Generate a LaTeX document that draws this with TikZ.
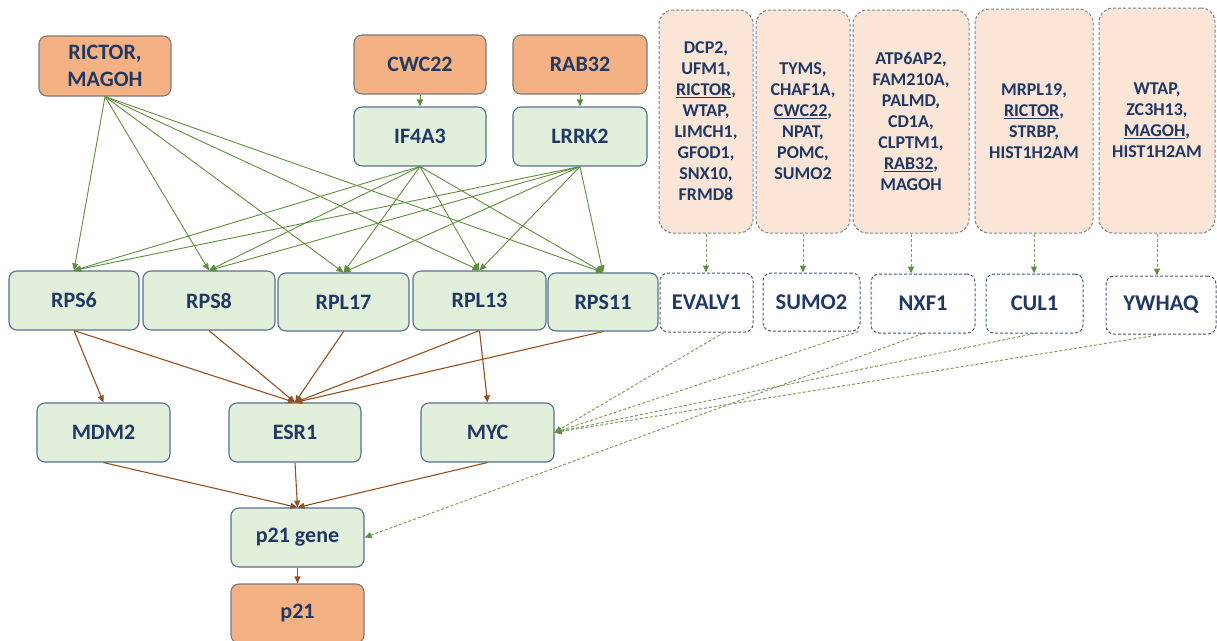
\documentclass[tikz,border=0pt]{standalone}
\usepackage{fontspec}
\setmainfont{Carlito}
\usetikzlibrary{arrows.meta,calc}
\definecolor{orfill}{HTML}{F4B183}
\definecolor{orline}{HTML}{7A7A7A}
\definecolor{grfill}{HTML}{E2EFDA}
\definecolor{grline}{HTML}{56708F}
\definecolor{pkfill}{HTML}{FBE5D6}
\definecolor{pkline}{HTML}{7C8796}
\definecolor{wline}{HTML}{44587A}
\definecolor{navy}{HTML}{1F3864}
\definecolor{garrc}{HTML}{5E8E3E}
\definecolor{gdash}{HTML}{7FA060}
\definecolor{barrc}{HTML}{96501F}
\tikzset{
  base/.style={rounded corners=8pt, align=center, text=navy, inner sep=0pt,
    font=\fontsize{22}{27}\selectfont\bfseries},
  obox/.style={base, fill=orfill, draw=orline, line width=1.1pt},
  gbox/.style={base, fill=grfill, draw=grline, line width=1.1pt},
  pbox/.style={base, fill=pkfill, draw=pkline, line width=1pt, dash pattern=on 3pt off 2pt,
    rounded corners=14pt, font=\fontsize{18}{21}\selectfont\bfseries},
  wbox/.style={base, fill=white, draw=wline, line width=1pt, dash pattern=on 3pt off 2pt,
    font=\fontsize{22.5}{27}\selectfont\bfseries},
  garr/.style={draw=garrc, line width=0.9pt, -{Triangle[length=7pt,width=6pt]}},
  barr/.style={draw=barrc, line width=1.1pt, -{Triangle[length=7pt,width=6pt]}},
  darr/.style={draw=gdash, line width=1pt, dash pattern=on 3pt off 2pt,
    -{Triangle[length=7pt,width=6pt,color=garrc]}},
}
\begin{document}
\begin{tikzpicture}[x=1pt,y=-1pt]
\useasboundingbox[fill=white] (0,0) rectangle (1217,640);
% top orange
\node[obox, minimum width=132pt, minimum height=60pt] (rm) at (105,66) {RICTOR,\\MAGOH};
\node[obox, minimum width=132pt, minimum height=59pt] (cwc) at (420,64.5) {CWC22};
\node[obox, minimum width=134pt, minimum height=59pt] (rab) at (580,64.5) {RAB32};
\node[gbox, minimum width=132pt, minimum height=59pt] (if4) at (420,136.5) {IF4A3};
\node[gbox, minimum width=134pt, minimum height=59pt] (lrrk) at (580,136.5) {LRRK2};
% RPS row
\node[gbox, minimum width=130pt, minimum height=59pt] (rps6) at (74,300.5) {RPS6};
\node[gbox, minimum width=132pt, minimum height=59pt] (rps8) at (209,300.5) {RPS8};
\node[gbox, minimum width=131pt, minimum height=58pt] (rpl17) at (343.5,302) {RPL17};
\node[gbox, minimum width=133pt, minimum height=59pt] (rpl13) at (479.5,300.5) {RPL13};
\node[gbox, minimum width=110pt, minimum height=58pt] (rps11) at (603,302) {RPS11};
% pink boxes
\node[pbox, minimum width=94pt, minimum height=223pt] (b1) at (706,121.5) {DCP2,\\UFM1,\\\underline{RICTOR},\\WTAP,\\LIMCH1,\\GFOD1,\\SNX10,\\FRMD8};
\node[pbox, minimum width=94pt, minimum height=223pt] (b2) at (803,121.5) {TYMS,\\CHAF1A,\\\underline{CWC22},\\NPAT,\\POMC,\\SUMO2};
\node[pbox, minimum width=116pt, minimum height=223pt] (b3) at (911,121.5) {ATP6AP2,\\FAM210A,\\PALMD,\\CD1A,\\CLPTM1,\\\underline{RAB32},\\MAGOH};
\node[pbox, minimum width=118pt, minimum height=224pt] (b4) at (1034,121) {MRPL19,\\\underline{RICTOR},\\STRBP,\\HIST1H2AM};
\node[pbox, minimum width=116pt, minimum height=225pt] (b5) at (1157,120.5) {WTAP,\\ZC3H13,\\\underline{MAGOH},\\HIST1H2AM};
% white boxes
\node[wbox, minimum width=93pt, minimum height=59pt] (evalv) at (706.5,302.5) {EVALV1};
\node[wbox, minimum width=97pt, minimum height=58pt] (sumo) at (811.5,302) {SUMO2};
\node[wbox, minimum width=104pt, minimum height=59pt] (nxf) at (923,303.5) {NXF1};
\node[wbox, minimum width=97pt, minimum height=59pt] (cul) at (1034.5,303.5) {CUL1};
\node[wbox, minimum width=110pt, minimum height=58pt] (ywhaq) at (1161,305) {YWHAQ};
% middle row
\node[gbox, minimum width=133pt, minimum height=59pt] (mdm) at (103.5,432.5) {MDM2};
\node[gbox, minimum width=132pt, minimum height=59pt] (esr) at (295,432.5) {ESR1};
\node[gbox, minimum width=133pt, minimum height=59pt] (myc) at (487.5,432.5) {MYC};
\node[gbox, minimum width=133pt, minimum height=59pt] (p21g) at (297.5,537.5) {p21 gene};
\node[obox, minimum width=133pt, minimum height=59pt] (p21) at (297.5,613.5) {p21};
% green solid arrows
\draw[garr] (cwc.south) -- (if4.north);
\draw[garr] (rab.south) -- (lrrk.north);
\foreach \s in {rm,if4,lrrk}{
  \foreach \t in {rps6,rps8,rpl17,rpl13,rps11}{
    \draw[garr] (\s.south) -- (\t.north);
  }
}
% brown arrows
\draw[barr] (rps6.south) -- (mdm.north);
\draw[barr] (rps6.south) -- (esr.north);
\draw[barr] (rps8.south) -- (esr.north);
\draw[barr] (rpl17.south) -- (esr.north);
\draw[barr] (rpl13.south) -- (esr.north);
\draw[barr] (rpl13.south) -- (myc.north);
\draw[barr] (rps11.south) -- (esr.north);
\draw[barr] (mdm.south) -- (p21g.north);
\draw[barr] (esr.south) -- (p21g.north);
\draw[barr] (myc.south) -- (p21g.north);
\draw[barr] (p21g.south) -- (p21.north);
% dashed arrows
\draw[darr] (b1.south) -- (b1.south |- evalv.north);
\draw[darr] (b2.south) -- (b2.south |- sumo.north);
\draw[darr] (b3.south) -- (b3.south |- nxf.north);
\draw[darr] (b4.south) -- (b4.south |- cul.north);
\draw[darr] (b5.south) -- (b5.south |- ywhaq.north);
\draw[darr] (evalv.-60) -- (myc.east);
\draw[darr] ($(sumo.south east)+(-2,0)$) -- (myc.east);
\draw[darr] (cul.south) -- (myc.east);
\draw[darr] (ywhaq.south) -- (myc.east);
\draw[darr] (nxf.south) -- (p21g.east);
\end{tikzpicture}
\end{document}
